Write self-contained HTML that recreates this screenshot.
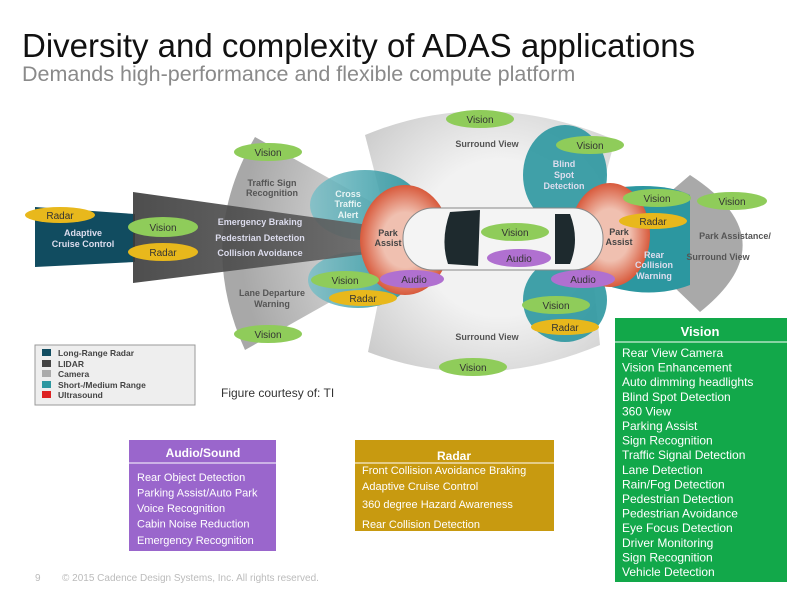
<!DOCTYPE html>
<html><head><meta charset="utf-8"><style>
body{margin:0;width:800px;height:600px;background:#fff;overflow:hidden;font-family:"Liberation Sans",sans-serif}
</style></head><body>
<svg width="800" height="600" viewBox="0 0 800 600" xmlns="http://www.w3.org/2000/svg" font-family="Liberation Sans, sans-serif">
<defs>
<radialGradient id="gc" cx="500" cy="238" r="260" gradientUnits="userSpaceOnUse"><stop offset="0.3" stop-color="#f2f2f2"/><stop offset="1" stop-color="#a8a8a8"/></radialGradient>
<linearGradient id="lid" x1="0" x2="1"><stop offset="0" stop-color="#3a3a3a"/><stop offset="1" stop-color="#707070"/></linearGradient>
<linearGradient id="teal" x1="0" x2="1"><stop offset="0" stop-color="#7cc0c8"/><stop offset="1" stop-color="#1c8d98"/></linearGradient>
<radialGradient id="red" cx="0.5" cy="0.5" r="0.5"><stop offset="0.5" stop-color="#f0c0b0"/><stop offset="1" stop-color="#d85a3c"/></radialGradient>
</defs>
<text x="22" y="57" font-size="33" fill="#111">Diversity and complexity of ADAS applications</text>
<text x="22" y="81" font-size="21.5" fill="#8a8a8a">Demands high-performance and flexible compute platform</text>

<path d="M390 232 L365 135 Q485 85 615 140 L590 232 Z" fill="url(#gc)"/>
<path d="M390 244 L368 352 Q480 395 600 345 L590 244 Z" fill="url(#gc)"/>
<path d="M440 240 L255 137 Q195 240 245 350 Z" fill="url(#gc)"/>
<path d="M620 235 L690 175 Q790 240 700 312 Z" fill="#a9a9a9"/>
<ellipse cx="365" cy="205" rx="55" ry="35" fill="url(#teal)" opacity="0.85"/>
<ellipse cx="358" cy="280" rx="50" ry="28" fill="url(#teal)" opacity="0.85"/>
<ellipse cx="565" cy="175" rx="42" ry="50" fill="#2c97a0" opacity="0.9"/>
<ellipse cx="565" cy="300" rx="42" ry="42" fill="#2c97a0" opacity="0.9"/>
<path d="M600 190 Q660 180 690 195 L690 285 Q650 300 605 285 Z" fill="#2c97a0"/>
<path d="M35 207 L135 214 L135 262 L35 267 Z" fill="#114c60"/>
<path d="M133 192 L440 235 L440 245 L133 283 Z" fill="url(#lid)" opacity="0.9"/>
<ellipse cx="405" cy="240" rx="45" ry="55" fill="url(#red)"/>
<ellipse cx="610" cy="235" rx="40" ry="52" fill="url(#red)"/>
<rect x="403" y="208" width="200" height="62" rx="30" fill="#f4f4f4" stroke="#888"/>
<path d="M450 212 L480 210 L478 266 L448 264 Q440 240 450 212Z" fill="#1e2a2e"/>
<path d="M555 214 L570 214 Q580 240 570 264 L555 264 Z" fill="#1e2a2e"/>

<g font-size="9" fill="#555" font-weight="bold" text-anchor="middle">
<text x="272" y="186">Traffic Sign</text><text x="272" y="196">Recognition</text>
<text x="272" y="296">Lane Departure</text><text x="272" y="307">Warning</text>
<text x="487" y="147">Surround View</text><text x="487" y="340">Surround View</text>
<text x="735" y="239">Park Assistance/</text><text x="718" y="260">Surround View</text>
</g>
<g font-size="9" fill="#dde" font-weight="bold" text-anchor="middle">
<text x="83" y="236">Adaptive</text><text x="83" y="247">Cruise Control</text>
<text x="260" y="225">Emergency Braking</text><text x="260" y="241">Pedestrian Detection</text><text x="260" y="256">Collision Avoidance</text>
<text x="348" y="197" fill="#e8f4f4">Cross</text><text x="348" y="207" fill="#e8f4f4">Traffic</text><text x="348" y="218" fill="#e8f4f4">Alert</text>
<text x="564" y="167">Blind</text><text x="564" y="178">Spot</text><text x="564" y="189">Detection</text>
<text x="654" y="258">Rear</text><text x="654" y="268">Collision</text><text x="654" y="279">Warning</text>
<text x="388" y="236" fill="#444">Park</text><text x="388" y="246" fill="#444">Assist</text>
<text x="619" y="235" fill="#444">Park</text><text x="619" y="245" fill="#444">Assist</text>
</g>

<g font-size="10" text-anchor="middle" fill="#333">
<g fill="#8fcc5a"><ellipse cx="268" cy="152" rx="34" ry="9"/><ellipse cx="163" cy="227" rx="35" ry="10"/><ellipse cx="345" cy="280" rx="34" ry="9"/><ellipse cx="268" cy="334" rx="34" ry="9"/><ellipse cx="480" cy="119" rx="34" ry="9"/><ellipse cx="590" cy="145" rx="34" ry="9"/><ellipse cx="657" cy="198" rx="34" ry="9"/><ellipse cx="732" cy="201" rx="35" ry="9"/><ellipse cx="515" cy="232" rx="34" ry="9"/><ellipse cx="556" cy="305" rx="34" ry="9"/><ellipse cx="473" cy="367" rx="34" ry="9"/></g>
<g fill="#e8b81c"><ellipse cx="60" cy="215" rx="35" ry="8"/><ellipse cx="163" cy="252" rx="35" ry="9"/><ellipse cx="363" cy="298" rx="34" ry="8"/><ellipse cx="653" cy="221" rx="34" ry="8"/><ellipse cx="565" cy="327" rx="34" ry="8"/></g>
<g fill="#b070d0"><ellipse cx="519" cy="258" rx="32" ry="9"/><ellipse cx="412" cy="279" rx="32" ry="9"/><ellipse cx="583" cy="279" rx="32" ry="9"/></g>
<text x="268" y="156">Vision</text><text x="163" y="231">Vision</text><text x="345" y="284">Vision</text><text x="268" y="338">Vision</text><text x="480" y="123">Vision</text><text x="590" y="149">Vision</text><text x="657" y="202">Vision</text><text x="732" y="205">Vision</text><text x="515" y="236">Vision</text><text x="556" y="309">Vision</text><text x="473" y="371">Vision</text>
<text x="60" y="219">Radar</text><text x="163" y="256">Radar</text><text x="363" y="302">Radar</text><text x="653" y="225">Radar</text><text x="565" y="331">Radar</text>
<text x="519" y="262">Audio</text><text x="414" y="283">Audio</text><text x="583" y="283">Audio</text>
</g>

<rect x="35" y="345" width="160" height="60" fill="#eee" stroke="#999"/>
<g font-size="8.5" fill="#444" font-weight="bold">
<rect x="42" y="349" width="9" height="7" fill="#114c60"/><text x="58" y="356">Long-Range Radar</text>
<rect x="42" y="360" width="9" height="7" fill="#444"/><text x="58" y="367">LIDAR</text>
<rect x="42" y="370" width="9" height="7" fill="#aaa"/><text x="58" y="377">Camera</text>
<rect x="42" y="381" width="9" height="7" fill="#2c97a0"/><text x="58" y="388">Short-/Medium Range</text>
<rect x="42" y="391" width="9" height="7" fill="#d22"/><text x="58" y="398">Ultrasound</text>
</g>
<text x="221" y="397" font-size="12" fill="#333">Figure courtesy of: TI</text>

<rect x="615" y="318" width="172" height="264" fill="#12a84a"/>
<line x1="615" y1="342" x2="787" y2="342" stroke="#fff"/>
<text x="700" y="336" font-size="13" font-weight="bold" fill="#fff" text-anchor="middle">Vision</text>
<g font-size="12" fill="#fff">
<text x="622" y="357">Rear View Camera</text><text x="622" y="371.6">Vision Enhancement</text><text x="622" y="386.2">Auto dimming headlights</text><text x="622" y="400.8">Blind Spot Detection</text><text x="622" y="415.4">360 View</text><text x="622" y="430">Parking Assist</text><text x="622" y="444.6">Sign Recognition</text><text x="622" y="459.2">Traffic Signal Detection</text><text x="622" y="473.8">Lane Detection</text><text x="622" y="488.4">Rain/Fog Detection</text><text x="622" y="503">Pedestrian Detection</text><text x="622" y="517.6">Pedestrian Avoidance</text><text x="622" y="532.2">Eye Focus Detection</text><text x="622" y="546.8">Driver Monitoring</text><text x="622" y="561.4">Sign Recognition</text><text x="622" y="576">Vehicle Detection</text>
</g>

<rect x="129" y="440" width="147" height="111" fill="#9a66cc"/>
<line x1="129" y1="463" x2="276" y2="463" stroke="#fff"/>
<text x="203" y="457" font-size="12" font-weight="bold" fill="#fff" text-anchor="middle">Audio/Sound</text>
<g font-size="11" fill="#fff">
<text x="137" y="481">Rear Object Detection</text><text x="137" y="496.5">Parking Assist/Auto Park</text><text x="137" y="512">Voice Recognition</text><text x="137" y="527.5">Cabin Noise Reduction</text><text x="137" y="544">Emergency Recognition</text>
</g>

<rect x="355" y="440" width="199" height="91" fill="#c89a10"/>
<line x1="355" y1="463" x2="554" y2="463" stroke="#fff"/>
<text x="454" y="460" font-size="12" font-weight="bold" fill="#fff" text-anchor="middle">Radar</text>
<g font-size="11" fill="#fff">
<text x="362" y="474">Front Collision Avoidance Braking</text><text x="362" y="490">Adaptive Cruise Control</text><text x="362" y="508">360 degree Hazard Awareness</text><text x="362" y="528">Rear Collision Detection</text>
</g>

<text x="35" y="581" font-size="10" fill="#bbb">9</text>
<text x="62" y="581" font-size="10" fill="#bbb">© 2015 Cadence Design Systems, Inc. All rights reserved.</text>
</svg>
</body></html>
